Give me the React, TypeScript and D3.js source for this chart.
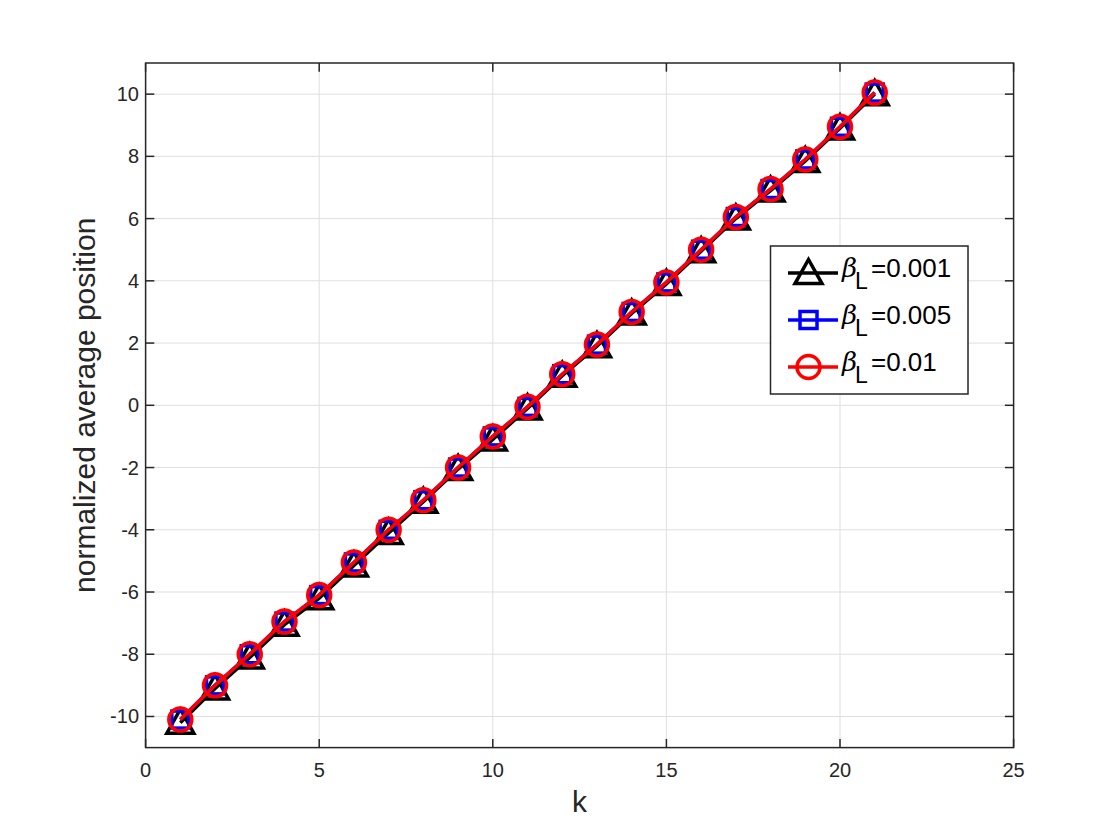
import React from "react";
import * as d3 from "d3";

const ks = [1, 2, 3, 4, 5, 6, 7, 8, 9, 10, 11, 12, 13, 14, 15, 16, 17, 18, 19, 20, 21];
const seriesBlack = [-10.2, -9.1, -8.1, -7.05, -6.2, -5.15, -4.1, -3.1, -2.05, -1.1, -0.1, 0.95, 1.9, 2.95, 3.9, 4.95, 6.0, 6.9, 7.85, 8.9, 10.0];
const seriesBlue = [-10.1, -9.0, -8.0, -6.95, -6.1, -5.05, -4.0, -3.05, -2.0, -1.0, -0.05, 1.0, 1.95, 3.0, 3.95, 5.0, 6.05, 6.95, 7.9, 8.95, 10.05];
const seriesRed = [-10.1, -9.0, -8.0, -6.95, -6.1, -5.05, -4.0, -3.05, -2.0, -1.0, -0.05, 1.0, 1.95, 3.0, 3.95, 5.0, 6.05, 6.95, 7.9, 8.95, 10.05];
const xTicks = [0, 5, 10, 15, 20, 25];
const yTicks = [-10, -8, -6, -4, -2, 0, 2, 4, 6, 8, 10];
const legendLabels = ["0.001", "0.005", "0.01"];

const W = 1120, H = 840;
const L = 145.6, T = 63, R = 1013.6, B = 747.6;
const font = "'Liberation Sans', Arial, Helvetica, sans-serif";

function Marker({ type, x, y, color }: { type: string; x: number; y: number; color: string }) {
  if (type === "tri") {
    const s = 13.5;
    const pts = [[x, y - s], [x + s, y + s * 0.78], [x - s, y + s * 0.78]].map((p) => p.join(",")).join(" ");
    return <polygon points={pts} fill="none" stroke={color} strokeWidth={3.5} strokeLinejoin="miter" />;
  }
  if (type === "sq") {
    const s = 8.5;
    return <rect x={x - s} y={y - s} width={2 * s} height={2 * s} fill="none" stroke={color} strokeWidth={3.5} />;
  }
  return <circle cx={x} cy={y} r={11.5} fill="none" stroke={color} strokeWidth={3.5} />;
}

export default function App() {
  const xs = d3.scaleLinear().domain([0, 25]).range([L, R]);
  const ys = d3.scaleLinear().domain([-11, 11]).range([B, T]);
  const line = d3.line<number>().x((_, i) => xs(ks[i])).y((d) => ys(d));
  const series = [
    { vals: seriesBlack, color: "#000000", type: "tri" },
    { vals: seriesBlue, color: "#0000ff", type: "sq" },
    { vals: seriesRed, color: "#ff0000", type: "circ" },
  ];
  const tick = 8.7;
  const lgX = 770.5, lgY = 246, lgW = 197.5, lgH = 148;
  const rowY = [273, 320, 367];
  return (
    <svg width={W} height={H} style={{ display: "block", position: "absolute", left: 0, top: 0 }}>
      <rect x={0} y={0} width={W} height={H} fill="#fff" />
      {/* grid */}
      {xTicks.map((t) => (
        <line key={"gx" + t} x1={xs(t)} x2={xs(t)} y1={T} y2={B} stroke="#dfdfdf" strokeWidth={1} />
      ))}
      {yTicks.map((t) => (
        <line key={"gy" + t} x1={L} x2={R} y1={ys(t)} y2={ys(t)} stroke="#dfdfdf" strokeWidth={1} />
      ))}
      {/* series */}
      {series.map((s, si) => (
        <g key={si}>
          <path d={line(s.vals) || ""} fill="none" stroke={s.color} strokeWidth={3.5} />
          {s.vals.map((v, i) => (
            <Marker key={i} type={s.type} x={xs(ks[i])} y={ys(v)} color={s.color} />
          ))}
        </g>
      ))}
      {/* box */}
      <rect x={L} y={T} width={R - L} height={B - T} fill="none" stroke="#262626" strokeWidth={1.5} />
      {/* ticks */}
      {xTicks.map((t) => (
        <g key={"tx" + t}>
          <line x1={xs(t)} x2={xs(t)} y1={B} y2={B - tick} stroke="#262626" strokeWidth={1.5} />
          <line x1={xs(t)} x2={xs(t)} y1={T} y2={T + tick} stroke="#262626" strokeWidth={1.5} />
          <text x={xs(t)} y={777} textAnchor="middle" fontFamily={font} fontSize={20} fill="#262626">
            {t}
          </text>
        </g>
      ))}
      {yTicks.map((t) => (
        <g key={"ty" + t}>
          <line x1={L} x2={L + tick} y1={ys(t)} y2={ys(t)} stroke="#262626" strokeWidth={1.5} />
          <line x1={R} x2={R - tick} y1={ys(t)} y2={ys(t)} stroke="#262626" strokeWidth={1.5} />
          <text x={139} y={ys(t) + 7} textAnchor="end" fontFamily={font} fontSize={20} fill="#262626">
            {t}
          </text>
        </g>
      ))}
      {/* axis labels */}
      <text x={(L + R) / 2} y={812} textAnchor="middle" fontFamily={font} fontSize={30} fill="#262626">
        k
      </text>
      <text
        transform={`translate(95,${(T + B) / 2}) rotate(-90)`}
        textAnchor="middle"
        fontFamily={font}
        fontSize={30}
        fill="#262626"
      >
        normalized average position
      </text>
      {/* legend */}
      <rect x={lgX} y={lgY} width={lgW} height={lgH} fill="#fff" stroke="#262626" strokeWidth={1.5} />
      {series.map((s, i) => (
        <g key={"lg" + i}>
          <line x1={788} x2={838} y1={rowY[i]} y2={rowY[i]} stroke={s.color} strokeWidth={3.5} />
          <Marker type={s.type} x={808.5} y={rowY[i]} color={s.color} />
          <text x={842} y={rowY[i] + 4} fontFamily="'DejaVu Serif', serif" fontStyle="italic" fontSize={26} fill="#000">
            β
          </text>
          <text x={855} y={rowY[i] + 16} fontFamily={font} fontSize={23} fill="#000">
            L
          </text>
          <text x={871} y={rowY[i] + 4} fontFamily={font} fontSize={26} fill="#000">
            ={legendLabels[i]}
          </text>
        </g>
      ))}
    </svg>
  );
}
